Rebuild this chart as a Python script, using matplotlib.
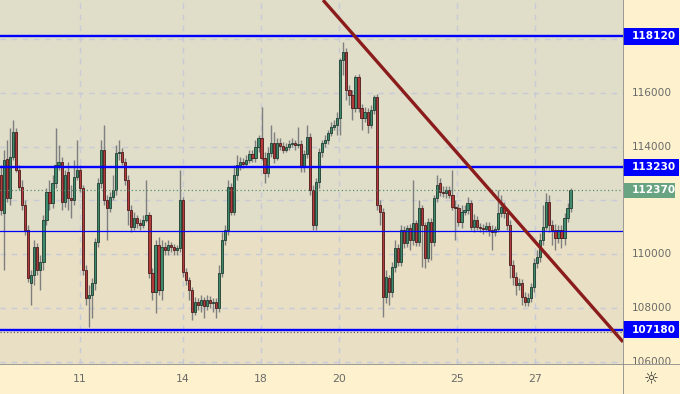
import matplotlib
matplotlib.use("Agg")
import matplotlib.pyplot as plt
from matplotlib.patches import Rectangle
import numpy as np

# ---------------- data ----------------
opens = [112950, 111530, 113540, 112090, 113620, 114550, 113130, 112500, 111830, 110900,
         108920, 109220, 110270, 109410, 109710, 111270, 112310, 111900, 112650, 113320,
         113430, 111940, 113060, 112090, 112020, 112870, 113130, 112460, 109410, 108370,
         108480, 108920, 110450, 112650, 113880, 112020, 111720, 112130, 112390, 113770,
         113800, 113430, 112760, 111640, 111010, 111350, 111160, 111080, 111270, 111460,
         109300, 108590, 110340, 108660, 110270, 110150, 110340, 110270, 110150, 110230,
         112020, 109330, 109040, 108660, 107840, 108220, 108100, 108290, 108070, 108290,
         108180, 108220, 107990, 109300, 110530, 110900, 112500, 111570, 112950, 113320,
         113430, 113360, 113500, 113730, 113580, 113990, 114320, 113580, 113020, 113770,
         114140, 113580, 114140, 114030, 113880, 113990, 114100, 114140, 114060, 114100,
         113240, 113730, 114360, 112390, 111080, 112690, 113800, 114140, 114250, 114510,
         114730, 114810, 115070, 117230, 117530, 116110, 115930, 115440, 116600, 115440,
         115070, 115290, 114810, 115370, 115850, 111830, 111570, 108400, 109110, 108590,
         109520, 110230, 109710, 110900, 110410, 110970, 110530, 111160, 110450, 111720,
         111080, 109860, 111200, 110450, 112090, 112650, 112310, 112280, 112390, 112200,
         111750, 111720, 111200, 111570, 111640, 111900, 111010, 111270, 111010, 110970,
         110930, 111050, 110900, 110820, 110930, 111530, 111750, 111530, 111080, 109590,
         109150, 108850, 108920, 108400, 108220, 108370, 108780, 109670, 109890, 110530,
         111010, 111940, 111080, 110900, 110600, 110900, 110600, 111350, 111720]

highs = [113320, 113880, 114250, 114700, 114990, 114700, 113320, 112760, 112020, 111080,
         109410, 110530, 110410, 109970, 111460, 112460, 112760, 112950, 114700, 114060,
         113620, 113130, 113430, 112570, 113500, 114250, 113320, 112570, 109590, 108850,
         109110, 110600, 112830, 114250, 114810, 112200, 112310, 112950, 114060, 114250,
         113950, 113580, 112950, 111830, 111570, 111460, 111310, 111460, 112760, 111570,
         109480, 110530, 110640, 110530, 110450, 110530, 110450, 110380, 110340, 113130,
         112130, 109480, 109150, 108780, 108400, 108370, 108480, 108400, 108480, 108440,
         108370, 108370, 109590, 110820, 111080, 112760, 112650, 113320, 113690, 113620,
         113580, 113690, 113880, 113880, 114250, 114440, 115480, 113800, 113990, 114810,
         114550, 114320, 114320, 114180, 114140, 114250, 114320, 114250, 114730, 114250,
         113880, 114810, 114510, 112570, 112830, 113950, 114250, 114440, 114620, 114920,
         114990, 115290, 117300, 117900, 117670, 116300, 116110, 116670, 116710, 115590,
         115480, 115440, 115550, 115930, 115960, 112020, 111720, 109410, 109220, 109710,
         110530, 110380, 111080, 111050, 111080, 111120, 112760, 111270, 112020, 111830,
         111200, 111350, 111350, 112200, 112950, 112830, 112540, 112540, 112540, 113130,
         112020, 111870, 111830, 111830, 112130, 112020, 111490, 111420, 111160, 111120,
         111200, 111200, 111080, 111050, 112390, 112200, 111940, 111720, 111270, 109780,
         109330, 109110, 109070, 108590, 108550, 108920, 109860, 110150, 110790, 111830,
         112280, 112200, 111270, 111120, 111080, 111080, 111530, 111900, 112460]

lows = [111460, 109410, 111940, 111830, 113500, 113060, 112390, 111640, 110710, 108960,
        108100, 108850, 109220, 108660, 109410, 111080, 111640, 111720, 112460, 113130,
        111640, 111750, 111640, 111350, 111830, 112760, 112310, 109220, 108100, 107290,
        107620, 108660, 110270, 112460, 111830, 110530, 111570, 112020, 112200, 113500,
        113320, 112570, 111080, 110820, 110900, 110970, 110900, 110970, 111200, 109110,
        108290, 107810, 108480, 108290, 109970, 109970, 110080, 109970, 109970, 110080,
        109150, 108850, 108290, 107550, 107730, 107920, 107840, 107620, 107920, 107990,
        107840, 107620, 107840, 109150, 110340, 110710, 111460, 111460, 112760, 113130,
        113210, 113240, 113390, 113430, 113430, 113800, 113500, 112650, 112870, 113620,
        113390, 113500, 113880, 113770, 113800, 113880, 113990, 113880, 113950, 113060,
        113060, 113580, 112200, 110900, 110900, 112460, 113620, 113990, 114100, 114400,
        114620, 114440, 114440, 116670, 115740, 115550, 114990, 115290, 115290, 114620,
        114920, 114510, 114700, 115220, 111640, 111080, 107660, 108180, 108100, 108400,
        109330, 109560, 109560, 110230, 110270, 110150, 110340, 110300, 110300, 109520,
        109480, 109710, 109780, 110300, 111940, 112160, 112130, 112090, 112090, 111640,
        110530, 111050, 110970, 111460, 111490, 110900, 110820, 110900, 110820, 110750,
        110820, 110670, 110150, 110670, 110820, 111380, 111350, 110900, 109110, 108850,
        108480, 108660, 108100, 108070, 108070, 108220, 108590, 109480, 109710, 110340,
        110900, 110820, 110340, 110150, 110410, 110230, 110340, 111200, 111570]

closes = [111640, 113500, 112090, 113620, 114550, 113130, 112500, 111830, 110900, 109110,
          109220, 110270, 109410, 109710, 111270, 112310, 111900, 112650, 113320, 113430,
          111940, 112950, 112090, 112020, 112870, 113130, 112460, 109410, 108370, 108480,
          108920, 110450, 112650, 113880, 112020, 111720, 112130, 112390, 113770, 113800,
          113430, 112760, 111640, 111010, 111350, 111160, 111080, 111270, 111460, 109300,
          108590, 110340, 108660, 110270, 110150, 110340, 110270, 110150, 110230, 112020,
          109330, 109040, 108660, 107840, 108220, 108100, 108290, 108070, 108290, 108180,
          108220, 107990, 109300, 110530, 110900, 112500, 111570, 112950, 113320, 113430,
          113360, 113500, 113730, 113580, 113990, 114320, 113580, 113020, 113770, 114140,
          113580, 114140, 114030, 113880, 113990, 114100, 114140, 114060, 114100, 113240,
          113730, 114360, 112390, 111080, 112690, 113800, 114140, 114250, 114510, 114730,
          114810, 115070, 117230, 117530, 116110, 115930, 115440, 116600, 115440, 115070,
          115290, 114810, 115370, 115850, 111830, 111570, 108400, 109150, 108590, 109520,
          110230, 109710, 110900, 110410, 110970, 110530, 111160, 110450, 111720, 111080,
          109860, 111200, 110450, 112090, 112570, 112310, 112280, 112390, 112200, 111750,
          111720, 111200, 111570, 111640, 111900, 111010, 111270, 111010, 110970, 110930,
          111050, 110900, 110820, 110930, 111530, 111750, 111530, 111080, 109590, 109150,
          108850, 108920, 108400, 108220, 108370, 108780, 109670, 109890, 110530, 111010,
          111940, 111080, 110900, 110600, 110900, 110600, 111350, 111720, 112370]

date_labels = ["11", "14", "18", "20", "25", "27"]
date_index = [26.1, 60.1, 85.8, 111.6, 150.5, 176.2]

level_lines = [118120, 113230, 107180]      # thick blue levels with labels
mid_line = 110860                            # thin blue line / background split
last_price = 112370
trend_index = [106.3, 205.3]
trend_price = [119460, 106730]
y_ticks = [106000, 108000, 110000, 112000, 114000, 116000, 118000]
y_tick_labels_shown = [106000, 108000, 110000, 114000, 116000]

# ---------------- figure ----------------
W, H = 680, 394
fig = plt.figure(figsize=(W / 100, H / 100), dpi=100)
fig.patch.set_facecolor("#fdf2cd")

plot_right = 623
plot_bottom = 30
ax = fig.add_axes([0, plot_bottom / H, plot_right / W, (H - plot_bottom) / H])
n = len(closes)
x = np.arange(n)
ymin, ymax = 105907, 119463
xmin, xmax = -0.33, 205.3
ax.set_xlim(xmin, xmax)
ax.set_ylim(ymin, ymax)

# background bands
ax.set_facecolor("#e0ddc9")
ax.axhspan(ymin, mid_line, color="#e8dfc5", zorder=0, lw=0)

# grid
for yt in y_ticks:
    ax.axhline(yt, color="#c8cad6", lw=1.0, ls=(0, (4, 4)), zorder=1)
for xt in date_index:
    ax.axvline(xt, color="#c8cad6", lw=1.0, ls=(0, (4, 4)), zorder=1)

# candles
o = np.array(opens); c = np.array(closes); h = np.array(highs); l = np.array(lows)
up = c >= o
ax.vlines(x, l, h, color="#7f7f7f", lw=1.0, zorder=2)
bottoms = np.minimum(o, c)
heights = np.maximum(np.abs(c - o), 25)
ax.bar(x[up], heights[up], bottom=bottoms[up], width=0.72, color="#3f8a6c",
       edgecolor="#1e3d31", lw=0.6, zorder=3)
ax.bar(x[~up], heights[~up], bottom=bottoms[~up], width=0.72, color="#b23a3a",
       edgecolor="#4a1b1b", lw=0.6, zorder=3)

# level lines
for lv in level_lines:
    ax.axhline(lv, color="#0000ff", lw=1.7, zorder=4)
ax.axhline(mid_line, color="#0000ff", lw=0.9, zorder=4)
ax.axhline(last_price, color="#5b8f73", lw=0.9, ls=(0, (1, 2)), zorder=4)
ax.axhline(107110, color="#555555", lw=0.8, ls=(0, (1, 2)), zorder=4)

# trend line
ax.plot(trend_index, trend_price, color="#8b1c1c", lw=2.4, zorder=5,
        solid_capstyle="butt")

ax.set_xticks([]); ax.set_yticks([])
for s in ax.spines.values():
    s.set_visible(False)

# right price axis
axr = fig.add_axes([plot_right / W, plot_bottom / H, (W - plot_right) / W, (H - plot_bottom) / H])
axr.set_facecolor("#fdf2cd")
axr.set_xlim(0, 1)
axr.set_ylim(ymin, ymax)
axr.set_xticks([]); axr.set_yticks([])
for s in axr.spines.values():
    s.set_visible(False)
axr.axvline(0, color="#8a8a8a", lw=1.2)
for yt in y_tick_labels_shown:
    axr.text(0.15, yt, f"{yt}", color="#6a6a6a", fontsize=7.6, va="center", ha="left")
half = 8.5 * (ymax - ymin) / (H - plot_bottom)
for lv in level_lines:
    axr.add_patch(Rectangle((0, lv - half), 0.98, 2 * half, color="#0000ff", lw=0,
                            clip_on=False))
    axr.text(0.15, lv, f"{lv}", color="white", fontsize=7.6, fontweight="bold",
             va="center", ha="left")
half_g = 7.5 * (ymax - ymin) / (H - plot_bottom)
axr.add_patch(Rectangle((0.01, last_price - half_g), 0.91, 2 * half_g,
                        color="#68a382", lw=0, clip_on=False))
axr.text(0.15, last_price, f"{last_price}", color="white", fontsize=7.6,
         fontweight="bold", va="center", ha="left")

# bottom date axis
axb = fig.add_axes([0, 0, plot_right / W, plot_bottom / H])
axb.set_facecolor("#fdf2cd")
axb.set_xlim(xmin, xmax)
axb.set_ylim(0, 1)
axb.set_xticks([]); axb.set_yticks([])
for s in axb.spines.values():
    s.set_visible(False)
axb.axhline(1, color="#8a8a8a", lw=1.2)
for xt, lab in zip(date_index, date_labels):
    axb.text(xt, 0.5, lab, color="#6a6a6a", fontsize=7.8, va="center", ha="center")

# corner
axc = fig.add_axes([plot_right / W, 0, (W - plot_right) / W, plot_bottom / H])
axc.set_facecolor("#fdf2cd")
axc.set_xticks([]); axc.set_yticks([])
for s in axc.spines.values():
    s.set_visible(False)
axc.axhline(1, color="#8a8a8a", lw=1.2)
axc.axvline(0, color="#8a8a8a", lw=1.2)
axc.text(0.5, 0.5, "\u263c", fontsize=12, color="#333333", ha="center", va="center",
         transform=axc.transAxes)

fig.savefig("out.png", dpi=100)
